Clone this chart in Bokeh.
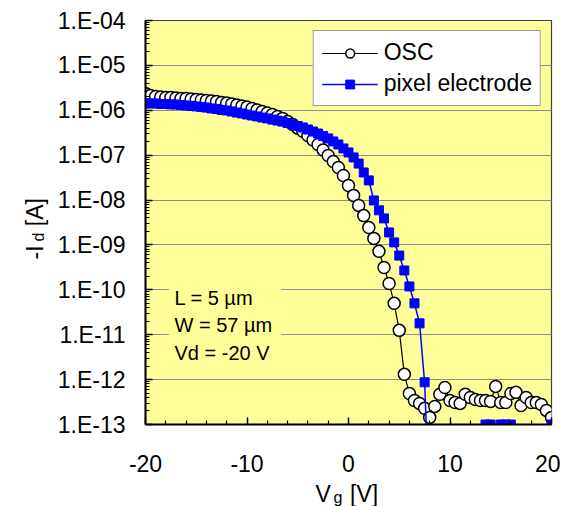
import math
from bokeh.plotting import figure
from bokeh.models import (ColumnDataSource, Range1d, FixedTicker,
                          Legend, LegendItem, Label, BoxAnnotation)
from bokeh.embed import file_html
from bokeh.resources import INLINE

# ---------------- data ----------------
vg = [-20 + 0.5 * i for i in range(81)]

osc_id = [
    2.37e-6, 2.14e-6, 2.03e-6, 1.98e-6, 1.93e-6, 1.93e-6, 1.88e-6, 1.83e-6, 1.83e-6, 1.79e-6,
    1.74e-6, 1.70e-6, 1.65e-6, 1.61e-6, 1.57e-6, 1.49e-6, 1.46e-6, 1.38e-6, 1.31e-6, 1.25e-6,
    1.18e-6, 1.10e-6, 1.02e-6, 9.4e-7, 8.7e-7, 8.05e-7, 7.3e-7, 6.6e-7, 5.6e-7, 4.8e-7,
    4.0e-7, 3.4e-7, 2.75e-7, 2.18e-7, 1.73e-7, 1.30e-7, 9.8e-8, 7.2e-8, 5.3e-8, 3.53e-8,
    2.11e-8, 1.27e-8, 7.6e-9, 4.5e-9, 2.45e-9, 1.40e-9, 7.2e-10, 3.15e-10, 1.39e-10, 5.0e-11,
    1.25e-11, 1.31e-12, 4.9e-13, 3.44e-13, 2.95e-13, 2.29e-13, 1.44e-13, 2.53e-13, 4.7e-13, 6.7e-13,
    3.44e-13, 3.1e-13, 2.95e-13, 4.7e-13, 4.0e-13, 3.62e-13, 3.44e-13, 3.44e-13, 3.27e-13, 7.06e-13,
    3.1e-13, 3.1e-13, 4.9e-13, 5.2e-13, 2.66e-13, 4.0e-13, 3.1e-13, 3.1e-13, 2.8e-13, 2.06e-13,
    1.44e-13,
]

pixel_id = [
    1.42e-6, 1.42e-6, 1.42e-6, 1.38e-6, 1.38e-6, 1.35e-6, 1.35e-6, 1.31e-6, 1.28e-6, 1.25e-6,
    1.22e-6, 1.18e-6, 1.15e-6, 1.10e-6, 1.07e-6, 1.02e-6, 9.9e-7, 9.4e-7, 8.9e-7, 8.5e-7,
    8.05e-7, 7.65e-7, 7.3e-7, 6.9e-7, 6.6e-7, 6.2e-7, 5.9e-7, 5.6e-7, 5.2e-7, 4.83e-7,
    4.47e-7, 4.14e-7, 3.73e-7, 3.37e-7, 3.04e-7, 2.68e-7, 2.36e-7, 2.02e-7, 1.73e-7, 1.41e-7,
    1.15e-7, 8.9e-8, 6.5e-8, 4.12e-8, 2.74e-8, 9.8e-9, 5.9e-9, 3.9e-9, 1.90e-9, 1.14e-9,
    5.8e-10, 2.7e-10, 1.19e-10, 5.0e-11, 1.79e-11, 8.7e-13, 1e-15, 1e-15, 1e-15, 1e-15,
    1e-15, 1e-15, 1e-15, 1e-15, 1e-15, 1e-15, 1e-15, 1e-13, 1e-13, 1e-15,
    1e-13, 1e-13, 1e-13, 1e-15, 1e-15, 1e-15, 1e-15, 1e-15, 1e-15, 1e-15,
    1e-13,
]

x_tick_values = [-20, -10, 0, 10, 20]
x_tick_labels = ["-20", "-10", "0", "10", "20"]
x_minor_ticks = [-18, -16, -14, -12, -8, -6, -4, -2, 2, 4, 6, 8, 12, 14, 16, 18]
y_tick_values = [1e-13, 1e-12, 1e-11, 1e-10, 1e-9, 1e-8, 1e-7, 1e-6, 1e-5, 1e-4]
y_tick_labels = ["1.E-13", "1.E-12", "1.E-11", "1.E-10", "1.E-09",
                 "1.E-08", "1.E-07", "1.E-06", "1.E-05", "1.E-04"]
notes = ["L = 5 \u00b5m", "W = 57 \u00b5m", "Vd = -20 V"]

FONT = "Liberation Sans"
NB3 = "\u00a0\u00a0\u00a0"

# ---------------- figure ----------------
p = figure(width=560, height=506, output_backend="svg", toolbar_location=None,
           x_range=Range1d(-20, 20), y_range=Range1d(1e-13, 1e-4), y_axis_type="log",
           min_border_left=145, min_border_right=9, min_border_top=20, min_border_bottom=82)
p.background_fill_color = "#FFFF99"
p.border_fill_color = "white"
p.outline_line_color = "#404040"
p.outline_line_width = 1.2

p.xgrid.visible = False
p.ygrid.grid_line_color = "#8c8c8c"
p.ygrid.grid_line_width = 1

xa = p.xaxis[0]
xa.ticker = FixedTicker(ticks=x_tick_values, minor_ticks=x_minor_ticks)
xa.major_label_overrides = {v: s for v, s in zip(x_tick_values, x_tick_labels)}
ya = p.yaxis[0]
y_minor = [m * 10.0 ** e for e in range(-13, -4) for m in range(2, 10)]
ya.ticker = FixedTicker(ticks=y_tick_values, minor_ticks=y_minor)
ya.major_label_overrides = {v: s for v, s in zip(y_tick_values, y_tick_labels)}

for ax in (xa, ya):
    ax.axis_line_color = "black"
    ax.axis_line_width = 2
    ax.major_tick_in = 7
    ax.major_tick_out = 0
    ax.minor_tick_in = 4
    ax.minor_tick_out = 0
    ax.major_tick_line_color = "black"
    ax.minor_tick_line_color = "black"
    ax.major_tick_line_width = 1.5
    ax.minor_tick_line_width = 1.2
    ax.major_label_text_font = FONT
    ax.major_label_text_font_size = "23px"
    ax.major_label_text_color = "black"
xa.major_label_standoff = 30
ya.major_label_standoff = 20

# ---------------- series ----------------
src_osc = ColumnDataSource(dict(x=vg, y=osc_id))
src_pix = ColumnDataSource(dict(x=vg, y=pixel_id))

l1 = p.line("x", "y", source=src_osc, line_color="black", line_width=1.2)
s1 = p.scatter("x", "y", source=src_osc, marker="circle", size=12,
               fill_color="white", line_color="black", line_width=1.5)
l2 = p.line("x", "y", source=src_pix, line_color="#0000FF", line_width=1.5)
s2 = p.scatter("x", "y", source=src_pix, marker="square", size=9,
               fill_color="#0000FF", line_color="#0000FF", line_width=1)

legend = Legend(items=[LegendItem(label="OSC", renderers=[l1, s1]),
                       LegendItem(label="pixel electrode", renderers=[l2, s2])],
                location="top_right", margin=10, padding=8, spacing=4,
                label_height=22, glyph_height=22, glyph_width=56, label_standoff=6,
                border_line_color="#333333", border_line_width=1.5,
                background_fill_color="white", background_fill_alpha=1.0,
                label_text_font=FONT, label_text_font_size="23px",
                label_text_color="black")
p.add_layout(legend)

# ---------------- notes box ----------------
p.add_layout(BoxAnnotation(left=-17.7, right=-6.6, bottom=2.4e-12, top=2.4e-10,
                           fill_color="#FFFF99", fill_alpha=1.0, line_alpha=0))
for txt, yy in zip(notes, [127, 100, 72]):
    p.add_layout(Label(x=29, y=yy, x_units="screen", y_units="screen", text=txt,
                       text_font=FONT, text_font_size="20px", text_color="black",
                       text_align="left", text_baseline="alphabetic"))

# ---------------- axis titles (with subscripts), placed in side panels ----------------
def lab(text, x, y, size, side, angle=0.0):
    p.add_layout(Label(x=x, y=y, text=text,
                       text_font=FONT, text_font_size=size, text_color="black",
                       text_align="left", text_baseline="alphabetic", angle=angle), side)

lab("V" + NB3 + "[V]", -3.25, 2.76e-15, "23px", "below")
lab("g", -1.48, 2.37e-15, "16px", "left")
lab("-I" + NB3 + "[A]", -30.84, 4.75e-10, "23px", "left", math.pi / 2)
lab("d", -30.54, 1.20e-9, "16px", "left", math.pi / 2)

open("out.html", "w").write(file_html(p, INLINE))
